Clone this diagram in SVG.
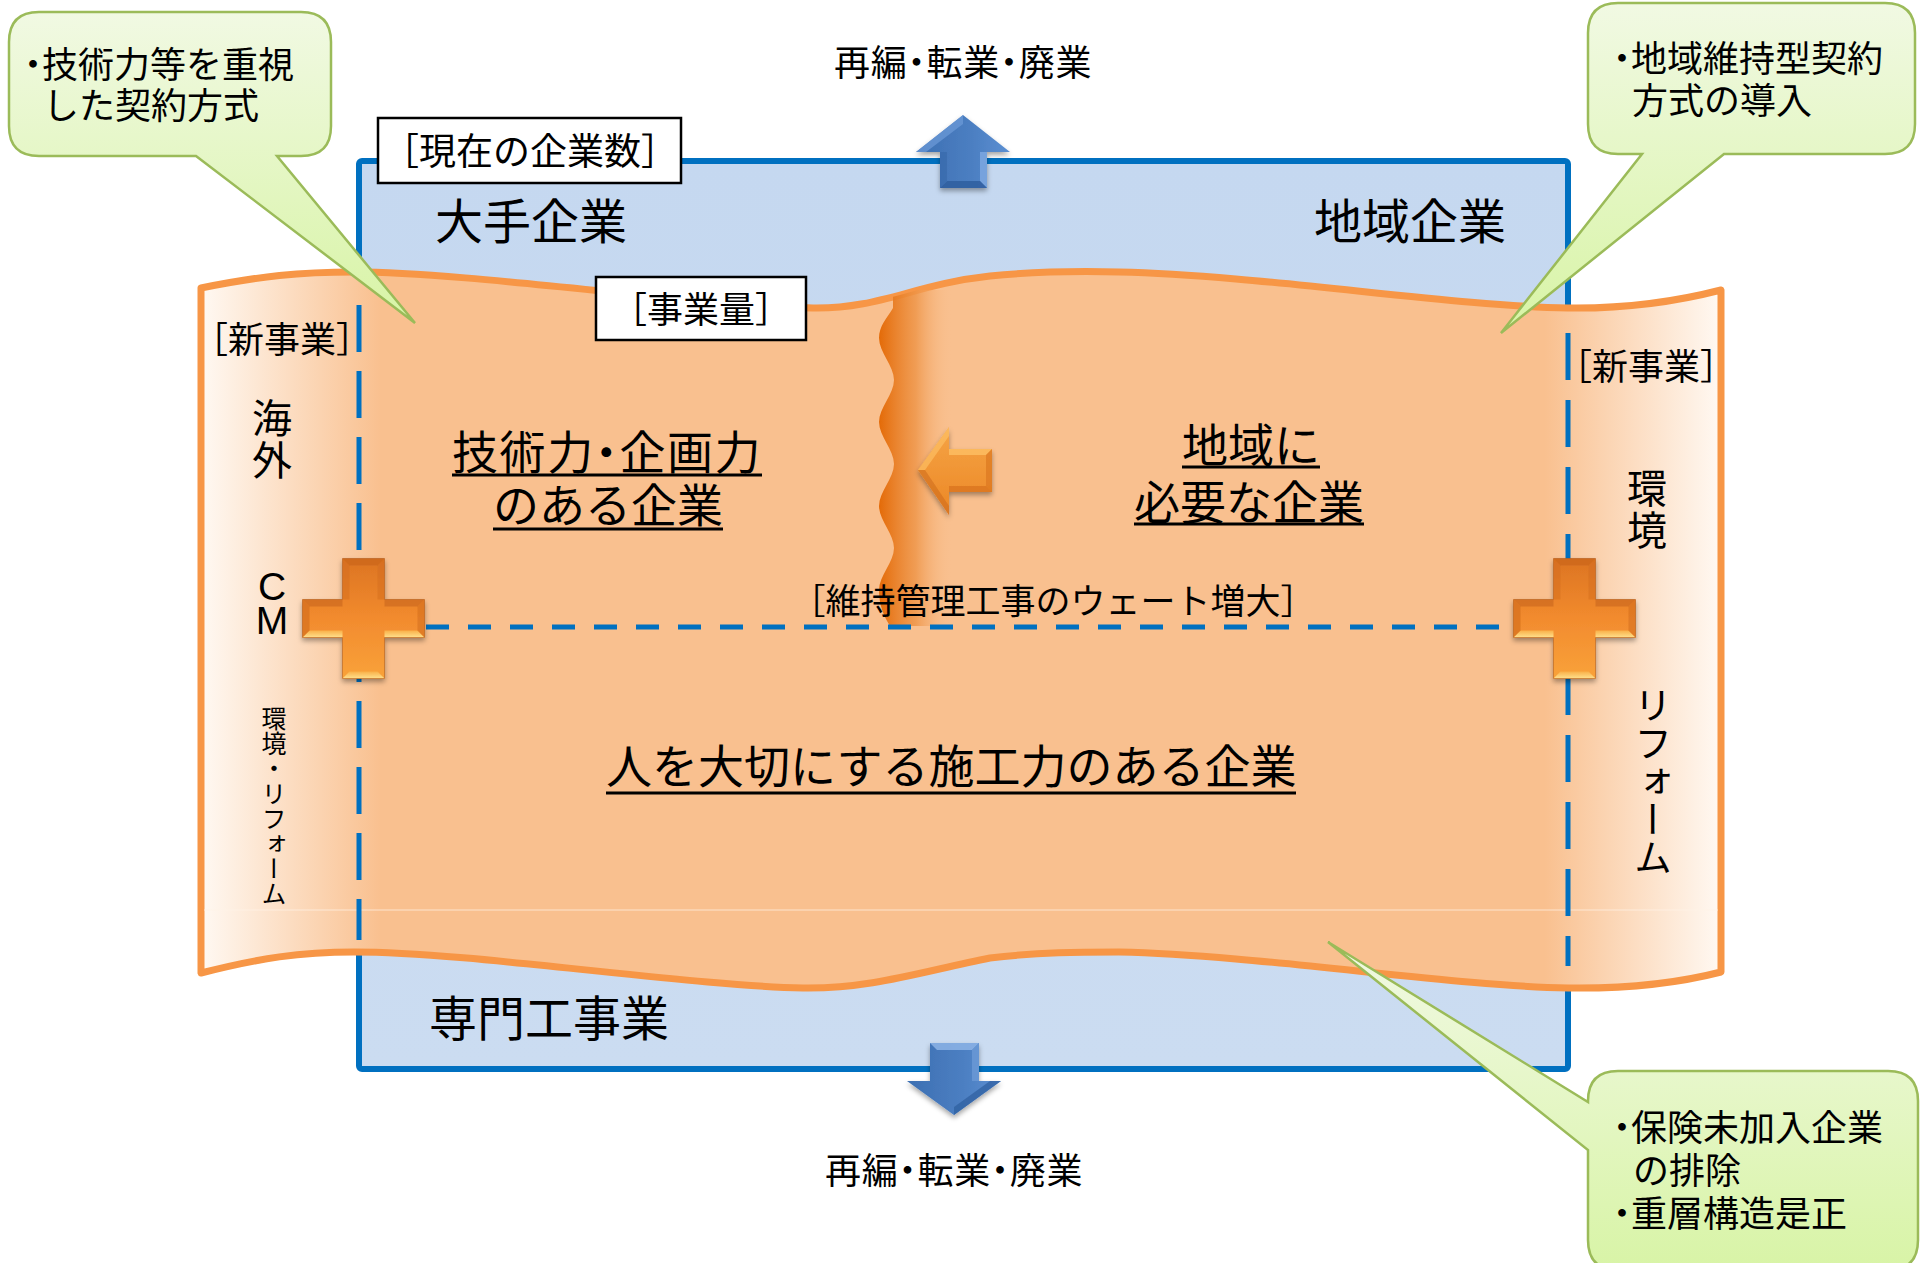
<svg xmlns="http://www.w3.org/2000/svg" width="1927" height="1263" viewBox="0 0 1927 1263">
<style>
.jp{font-family:"Noto Sans CJK JP","Noto Sans CJK SC",sans-serif;fill:#000}
.lat{font-family:"Liberation Sans",Arial,sans-serif;fill:#000}
.halt{font-feature-settings:"halt"}
.ul{stroke:#000;stroke-width:3}
.dash{fill:none;stroke:#0070C0;stroke-width:5}
.call{stroke:#9BBB59;stroke-width:2.5;fill:url(#gGreen)}
.box{fill:#fff;stroke:#000;stroke-width:2.5}
.vt{writing-mode:vertical-rl}
</style>
<defs>
<linearGradient id="gBanner" gradientUnits="userSpaceOnUse" x1="201" y1="0" x2="1721" y2="0">
<stop offset="0" stop-color="#FFF9F3"/>
<stop offset="0.118" stop-color="#F9C08F"/>
<stop offset="0.884" stop-color="#F9C08F"/>
<stop offset="1" stop-color="#FFF9F3"/>
</linearGradient>
<linearGradient id="gBand" gradientUnits="userSpaceOnUse" x1="880" y1="0" x2="952" y2="0">
<stop offset="0" stop-color="#E46C0A"/>
<stop offset="0.5" stop-color="#EE9446" stop-opacity="0.8"/>
<stop offset="1" stop-color="#F9C08F" stop-opacity="0"/>
</linearGradient>
<linearGradient id="gBlue" x1="0" y1="0" x2="0" y2="1">
<stop offset="0" stop-color="#C5D8F0"/>
<stop offset="1" stop-color="#CBDCF1"/>
</linearGradient>
<linearGradient id="gGreen" x1="0" y1="0" x2="0" y2="1">
<stop offset="0" stop-color="#F1F9E3"/>
<stop offset="1" stop-color="#D8F4A6"/>
</linearGradient>
<linearGradient id="gPlus" x1="0" y1="0" x2="0" y2="1">
<stop offset="0" stop-color="#DC7422"/>
<stop offset="0.5" stop-color="#F28B2E"/>
<stop offset="1" stop-color="#F9A23A"/>
</linearGradient>
<linearGradient id="gBevelLight" x1="0" y1="0" x2="0" y2="1">
<stop offset="0" stop-color="#F9B048"/>
<stop offset="1" stop-color="#FFE08C"/>
</linearGradient>
<linearGradient id="gArrowBlue" x1="0" y1="0" x2="1" y2="0">
<stop offset="0" stop-color="#3C6FB2"/>
<stop offset="0.6" stop-color="#4C7FC2"/>
<stop offset="1" stop-color="#5B8FD2"/>
</linearGradient>
<linearGradient id="gArrowOr" x1="0" y1="0" x2="0" y2="1">
<stop offset="0" stop-color="#F5A445"/>
<stop offset="1" stop-color="#EC8725"/>
</linearGradient>
<filter id="shadow" x="-30%" y="-30%" width="160%" height="160%">
<feDropShadow dx="0" dy="3" stdDeviation="2.5" flood-color="#000" flood-opacity="0.35"/>
</filter>
<clipPath id="clipBanner">
<path d="M201,288 C260,276 300,272 354,272 C470,272 700,306 813,308 C880,309 915,284 990,276 C1040,271 1080,271 1119,272 C1260,275 1450,306 1568,308 C1640,309 1690,298 1721,290 L1721,972 C1690,980 1640,989 1568,988 C1450,986 1260,955 1119,952 C1080,952 1040,952 990,958 C920,972 870,989 803,988 C690,986 470,952 354,952 C300,952 260,958 201,973 Z"/>
</clipPath>
<g id="plus" filter="url(#shadow)">
<path d="M-21,-60 H21 V-19 H61 V19 H21 V60 H-21 V19 H-61 V-19 H-21 Z" fill="url(#gPlus)"/>
<polygon points="-61,19 -21,19 -21,12 -54,12" fill="url(#gBevelLight)"/>
<polygon points="21,19 61,19 54,12 21,12" fill="url(#gBevelLight)"/>
<polygon points="-21,60 21,60 14,53 -14,53" fill="url(#gBevelLight)"/>
<polygon points="-21,-60 21,-60 14,-53 -14,-53" fill="#C4621A" opacity="0.55"/>
<polygon points="-61,-19 -21,-19 -21,-12 -54,-12" fill="#C4621A" opacity="0.55"/>
<polygon points="21,-19 61,-19 54,-12 21,-12" fill="#C4621A" opacity="0.55"/>
<polygon points="-61,-19 -54,-12 -54,12 -61,19" fill="#D06A1C" opacity="0.6"/>
<polygon points="61,-19 54,-12 54,12 61,19" fill="#D06A1C" opacity="0.5"/>
<polygon points="-21,-60 -14,-53 -14,-19 -21,-19" fill="#D06A1C" opacity="0.4"/>
<polygon points="21,-60 14,-53 14,-19 21,-19" fill="#D06A1C" opacity="0.4"/>
<path d="M-61,-19 H-21 V-60 H21 V-19 H61 V19 H21 V60 H-21 V19 H-61 Z" fill="none" stroke="#B8601C" stroke-width="1" opacity="0.6"/>
</g>
</defs>

<rect width="1927" height="1263" fill="#fff"/>

<g id="company-area">
<rect x="359" y="161" width="1209" height="908" rx="3" fill="url(#gBlue)" stroke="#0070C0" stroke-width="6"/>
</g>

<g id="business-volume">
<path d="M201,288 C260,276 300,272 354,272 C470,272 700,306 813,308 C880,309 915,284 990,276 C1040,271 1080,271 1119,272 C1260,275 1450,306 1568,308 C1640,309 1690,298 1721,290 L1721,972 C1690,980 1640,989 1568,988 C1450,986 1260,955 1119,952 C1080,952 1040,952 990,958 C920,972 870,989 803,988 C690,986 470,952 354,952 C300,952 260,958 201,973 Z" fill="url(#gBanner)" stroke="#F79646" stroke-width="7" stroke-linejoin="round"/>
<g clip-path="url(#clipBanner)">
<path d="M893,290 L893,308 C887,318 879,326 879,338 C879,352 894,366 894,380 C894,394 879,408 879,422 C879,436 894,450 894,464 C894,478 879,492 879,506 C879,520 894,534 894,548 C894,562 879,576 879,590 C879,606 884,616 890,626 L952,626 L952,290 Z" fill="url(#gBand)"/>
</g>
<line x1="204" y1="910" x2="1718" y2="910" stroke="#FFF3E8" stroke-width="1.2" opacity="0.7"/>
</g>

<g id="connectors">
<line class="dash" x1="359" y1="305" x2="359" y2="940" stroke-dasharray="47 19"/>
<line class="dash" x1="1568" y1="333" x2="1568" y2="966" stroke-dasharray="47 20"/>
<line class="dash" x1="426" y1="627" x2="1500" y2="627" stroke-dasharray="23 19"/>
</g>

<g id="plus-left"><use href="#plus" transform="translate(363.5,618.5)"/></g>
<g id="plus-right"><use href="#plus" transform="translate(1574.5,618.5)"/></g>

<g id="arrow-left" filter="url(#shadow)">
<polygon points="918,470 949,427 949,449 992,449 992,492 949,492 949,515" fill="url(#gArrowOr)"/>
<polygon points="949,449 992,449 986,455 949,455" fill="#FFC46A" opacity="0.7"/>
<polygon points="992,449 992,492 986,486 986,455" fill="#D9731E" opacity="0.6"/>
<polygon points="949,492 992,492 986,486 949,486" fill="#D36C1A" opacity="0.6"/>
<polygon points="918,470 949,427 949,436 925,470" fill="#FFC46A" opacity="0.6"/>
<polygon points="918,470 949,515 949,506 925,470" fill="#C9651A" opacity="0.5"/>
</g>

<g id="arrow-up" filter="url(#shadow)">
<polygon points="963,115 1010,152 987,152 987,188 940,188 940,152 916,152" fill="url(#gArrowBlue)"/>
<polygon points="963,115 916,152 926,152 963,124" fill="#6E9BD8" opacity="0.7"/>
<polygon points="980,152 987,152 987,188 980,181" fill="#7FAAE2" opacity="0.8"/>
<polygon points="940,188 987,188 980,181 947,181" fill="#2D5D9C" opacity="0.8"/>
<polygon points="940,152 947,152 947,181 940,188" fill="#3A6BAE" opacity="0.8"/>
</g>
<g id="arrow-down" filter="url(#shadow)">
<polygon points="930,1043 979,1043 979,1081 1001,1081 954,1115 907,1081 930,1081" fill="url(#gArrowBlue)"/>
<polygon points="930,1043 979,1043 972,1050 937,1050" fill="#8DB4E6" opacity="0.85"/>
<polygon points="972,1050 979,1043 979,1081 972,1081" fill="#6F9CD8" opacity="0.7"/>
<polygon points="954,1115 1001,1081 990,1081 954,1107" fill="#2E5E9E" opacity="0.7"/>
</g>

<g id="labels">
<text class="jp halt" x="834" y="76" font-size="36" letter-spacing="0.8">再編・転業・廃業</text>
<text class="jp halt" x="825" y="1184" font-size="36" letter-spacing="0.8">再編・転業・廃業</text>
<text class="jp" x="531" y="239" font-size="48" text-anchor="middle">大手企業</text>
<text class="jp" x="1410" y="239" font-size="48" text-anchor="middle">地域企業</text>
<text class="jp" x="549" y="1036" font-size="48" text-anchor="middle">専門工事業</text>
</g>

<g id="box-current">
<rect class="box" x="378" y="118" width="303" height="65"/>
<text class="jp" x="530" y="165" font-size="37" text-anchor="middle">［現在の企業数］</text>
</g>
<g id="box-volume">
<rect class="box" x="596" y="277" width="210" height="63"/>
<text class="jp" x="701" y="323" font-size="36" text-anchor="middle">［事業量］</text>
</g>

<g id="new-left">
<text class="jp" x="282" y="353" font-size="36" text-anchor="middle">［新事業］</text>
<text class="jp vt" x="272" y="398" font-size="40" letter-spacing="2">海外</text>
<text class="lat" x="272" y="600" font-size="39" text-anchor="middle">C</text>
<text class="lat" x="272" y="634" font-size="39" text-anchor="middle">M</text>
<text class="jp vt" x="274" y="706" font-size="25">環境・リフォーム</text>
</g>
<g id="new-right">
<text class="jp" x="1646" y="380" font-size="36" text-anchor="middle">［新事業］</text>
<text class="jp vt" x="1647" y="468" font-size="40" letter-spacing="2">環境</text>
<text class="jp vt" x="1653" y="686" font-size="38">リフォーム</text>
</g>

<g id="tech-company">
<text class="jp halt" x="452" y="469" font-size="46" letter-spacing="1.6">技術力・企画力</text>
<line class="ul" x1="452" y1="475" x2="762" y2="475"/>
<text class="jp" x="493" y="522" font-size="46">のある企業</text>
<line class="ul" x1="493" y1="529" x2="723" y2="529"/>
</g>
<g id="local-company">
<text class="jp" x="1182" y="462" font-size="46">地域に</text>
<line class="ul" x1="1182" y1="467" x2="1320" y2="467"/>
<text class="jp" x="1134" y="519" font-size="46">必要な企業</text>
<line class="ul" x1="1134" y1="524" x2="1364" y2="524"/>
</g>
<g id="maintenance">
<text class="jp" x="1053" y="614" font-size="35" text-anchor="middle">［維持管理工事のウェート増大］</text>
</g>
<g id="construction-company">
<text class="jp" x="606" y="783" font-size="46">人を大切にする施工力のある企業</text>
<line class="ul" x1="606" y1="793" x2="1296" y2="793"/>
</g>

<g id="callout-left">
<path class="call" d="M39,12 H301 Q331,12 331,42 V126 Q331,156 301,156 H277 L415,323 L196,156 H39 Q9,156 9,126 V42 Q9,12 39,12 Z"/>
<text class="jp halt" x="24" y="78" font-size="36">・技術力等を重視</text>
<text class="jp" x="43" y="119" font-size="36">した契約方式</text>
</g>
<g id="callout-right">
<path class="call" d="M1618,3 H1885 Q1915,3 1915,33 V124 Q1915,154 1885,154 H1724 L1501,333 L1642,154 H1618 Q1588,154 1588,124 V33 Q1588,3 1618,3 Z"/>
<text class="jp halt" x="1613" y="72" font-size="36">・地域維持型契約</text>
<text class="jp" x="1632" y="114" font-size="36">方式の導入</text>
</g>
<g id="callout-bottom">
<path class="call" d="M1618,1071 H1888 Q1918,1071 1918,1101 V1240 Q1918,1270 1888,1270 H1618 Q1588,1270 1588,1240 V1150 L1328,942 L1588,1102 V1101 Q1588,1071 1618,1071 Z"/>
<text class="jp halt" x="1613" y="1141" font-size="36">・保険未加入企業</text>
<text class="jp" x="1633" y="1184" font-size="36">の排除</text>
<text class="jp halt" x="1613" y="1227" font-size="36">・重層構造是正</text>
</g>
</svg>
